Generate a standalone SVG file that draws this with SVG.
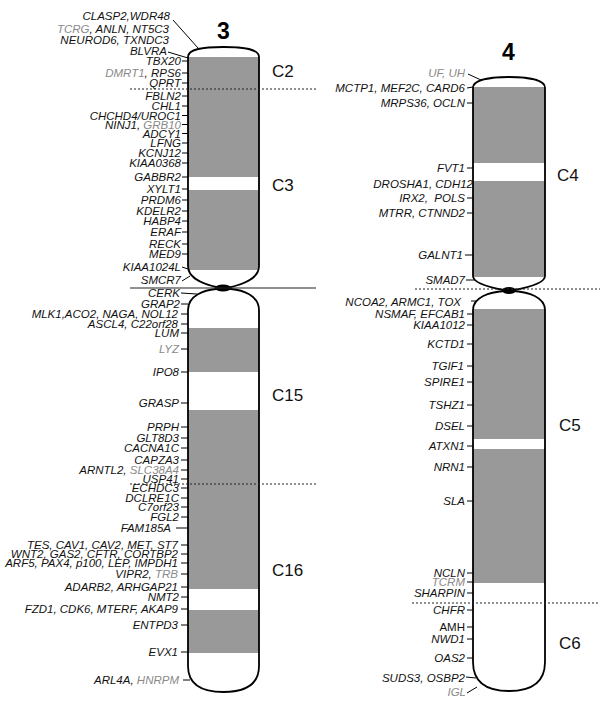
<svg xmlns="http://www.w3.org/2000/svg" width="600" height="706" viewBox="0 0 600 706">
<style>
.g{font-family:"Liberation Sans",Arial,sans-serif;font-style:italic;font-size:11.5px;text-anchor:end;fill:#111}
.gr{fill:#8a8a8a}
.up{font-style:normal}
.band{font-family:"Liberation Sans",Arial,sans-serif;font-size:17px;fill:#111}
.title{font-family:"Liberation Sans",Arial,sans-serif;font-size:23px;font-weight:bold;text-anchor:middle;fill:#000}
.outline{fill:none;stroke:#000;stroke-width:1.8}
.fillw{fill:#fff}
.grey{fill:#999}
.tick{stroke:#000;stroke-width:1;fill:none}
.dot{stroke:#222;stroke-width:1;stroke-dasharray:2,2;fill:none}
.solid{stroke:#222;stroke-width:1.2;fill:none}
</style>
<defs>
<path id="c3u" d="M188,57 C188,49 203,47 223.5,47 C244,47 259,49 259,57 L259,266 C259,280 240,285 229,287.5 L218,287.5 C207,285 188,280 188,266 Z"/>
<path id="c3l" d="M216,289 C205,290 188,295 188,310 L188,666 C188,687 205,692 223.5,692 C242,692 259,687 259,666 L259,310 C259,295 242,290 231,289 Z"/>
<path id="c4u" d="M473,88 C473,80 490,77 509,77 C528,77 545,80 545,88 L545,276 C545,284 525,288 514,290 L504,290 C493,288 473,284 473,276 Z"/>
<path id="c4l" d="M504,291 C490,292 473,297 473,310 L473,662 C473,685 490,691 509,691 C528,691 545,685 545,662 L545,310 C545,297 528,292 514,291 Z"/>
<clipPath id="k3u"><use href="#c3u"/></clipPath>
<clipPath id="k3l"><use href="#c3l"/></clipPath>
<clipPath id="k4u"><use href="#c4u"/></clipPath>
<clipPath id="k4l"><use href="#c4l"/></clipPath>
</defs>
<rect width="600" height="706" fill="#fff"/>

<g id="chr3">
<use href="#c3u" class="fillw"/>
<use href="#c3l" class="fillw"/>
<g clip-path="url(#k3u)" class="grey">
<rect x="180" y="57" width="90" height="120"/>
<rect x="180" y="190" width="90" height="80"/>
</g>
<g clip-path="url(#k3l)" class="grey">
<rect x="180" y="328" width="90" height="44"/>
<rect x="180" y="410" width="90" height="179"/>
<rect x="180" y="610" width="90" height="43"/>
</g>
<use href="#c3u" class="outline"/>
<use href="#c3l" class="outline"/>
<ellipse cx="223" cy="288" rx="8" ry="3.5" fill="#000"/>
<text class="title" x="223.5" y="39">3</text>
</g>

<g id="chr4">
<use href="#c4u" class="fillw"/>
<use href="#c4l" class="fillw"/>
<g clip-path="url(#k4u)" class="grey">
<rect x="465" y="87" width="90" height="76"/>
<rect x="465" y="181" width="90" height="96"/>
</g>
<g clip-path="url(#k4l)" class="grey">
<rect x="465" y="309" width="90" height="130"/>
<rect x="465" y="449" width="90" height="134"/>
</g>
<use href="#c4u" class="outline"/>
<use href="#c4l" class="outline"/>
<ellipse cx="509" cy="290.5" rx="7" ry="3.5" fill="#000"/>
<text class="title" x="508.5" y="60">4</text>
</g>

<g id="bands">
<text class="band" x="272" y="77">C2</text>
<text class="band" x="272" y="191">C3</text>
<text class="band" x="272" y="401">C15</text>
<text class="band" x="272" y="576">C16</text>
<text class="band" x="557" y="181">C4</text>
<text class="band" x="559" y="431">C5</text>
<text class="band" x="559" y="649">C6</text>
</g>

<g id="connectors">
<line class="solid" x1="130" y1="288" x2="316" y2="288"/>
<line class="dot" x1="130" y1="89" x2="316" y2="89"/>
<line class="dot" x1="130" y1="484" x2="316" y2="484"/>
<line class="dot" x1="415" y1="289" x2="600" y2="289"/>
<line class="dot" x1="412" y1="603" x2="600" y2="603"/>
<path class="tick" d="M173,20 L198,48 M168,52 L188,58
M182,61 H188 M182,73 H188 M182,83 H188 M182,96 H188 M182,106 H188 M182,115.5 H188 M182,124.5 H188 M182,133.5 H188 M182,143 H188 M182,153 H188 M182,163 H188 M182,177 H188 M182,189 H188 M182,200 H188 M182,211 H188 M182,221 H188 M182,232 H188 M182,244 H188 M182,254 H188 M182,267 L188,269
M182,281 L190,276 M181,293 L197,294
M181,304 H188 M181,314 H188 M181,324 H188 M181,333 H188 M181,349 H188 M181,372 H188 M181,403 H188 M181,427 H188 M181,438 H188 M181,448 H188 M181,460 H188 M181,470 H188 M181,479 H188 M181,488 H188 M181,498 H188 M181,507 H188 M181,517 H188 M176,528 H188 M181,545 H188 M181,554 H188 M181,563 H188 M181,574 H188 M181,587 H188 M181,597 H188 M181,609 H188 M181,625 H188 M181,652 H188 M183,680 H190"/>
<path class="tick" d="M468,74 L481,80 M467,88 L473,87 M467,103 H473 M467,168 H473 M467,198 H473 M467,213 H473 M465,255 H473 M466,280 H475
M471,301 H477 M467,314 H473 M467,325 H473 M467,344 H473 M467,366 H473 M467,382 H473 M467,405 H473 M467,426 H473 M467,446 H473 M467,467 H473 M467,501 H473 M467,573 H473 M467,582 H473 M467,593 H473 M467,610 H473 M467,627 H473 M467,639 H473 M467,658 H473 M466,677 L476,678 M467,693 L477,687"/>
</g>

<g id="labels3">
<text class="g" x="170" y="20">CLASP2,WDR48</text>
<text class="g" x="169" y="33"><tspan class="gr">TCRG</tspan>, ANLN, NT5C3</text>
<text class="g" x="169" y="44">NEUROD6, TXNDC3</text>
<text class="g" x="167" y="55">BLVRA</text>
<text class="g" x="181" y="65">TBX20</text>
<text class="g" x="181" y="77"><tspan class="gr">DMRT1</tspan>, RPS6</text>
<text class="g" x="181" y="87">QPRT</text>
<text class="g" x="181" y="100">FBLN2</text>
<text class="g" x="181" y="110">CHL1</text>
<text class="g" x="181" y="119.5">CHCHD4/UROC1</text>
<text class="g" x="181" y="128.5">NINJ1, <tspan class="gr">GRB10</tspan></text>
<text class="g" x="181" y="137.5">ADCY1</text>
<text class="g" x="181" y="147">LFNG</text>
<text class="g" x="181" y="157">KCNJ12</text>
<text class="g" x="181" y="167">KIAA0368</text>
<text class="g" x="181" y="181">GABBR2</text>
<text class="g" x="181" y="193">XYLT1</text>
<text class="g" x="181" y="204">PRDM6</text>
<text class="g" x="181" y="215">KDELR2</text>
<text class="g" x="181" y="225">HABP4</text>
<text class="g" x="181" y="236">ERAF</text>
<text class="g" x="181" y="248">RECK</text>
<text class="g" x="181" y="258">MED9</text>
<text class="g" x="181" y="271">KIAA1024L</text>
<text class="g" x="181" y="284">SMCR7</text>
<text class="g" x="180" y="297">CERK</text>
<text class="g" x="180" y="308">GRAP2</text>
<text class="g" x="178" y="318">MLK1,ACO2, NAGA, NOL12</text>
<text class="g" x="178" y="328">ASCL4, C22orf28</text>
<text class="g" x="179" y="337">LUM</text>
<text class="g" x="179" y="353"><tspan class="gr">LYZ</tspan></text>
<text class="g" x="179" y="376">IPO8</text>
<text class="g" x="179" y="407">GRASP</text>
<text class="g" x="179" y="431">PRPH</text>
<text class="g" x="179" y="442">GLT8D3</text>
<text class="g" x="179" y="452">CACNA1C</text>
<text class="g" x="179" y="464">CAPZA3</text>
<text class="g" x="179" y="474">ARNTL2, <tspan class="gr">SLC38A4</tspan></text>
<text class="g" x="179" y="483">USP41</text>
<text class="g" x="179" y="492">ECHDC3</text>
<text class="g" x="179" y="502">DCLRE1C</text>
<text class="g" x="179" y="511">C7orf23</text>
<text class="g" x="179" y="521">FGL2</text>
<text class="g" x="171" y="532">FAM185A</text>
<text class="g" x="178" y="549">TES, CAV1, CAV2, MET, ST7</text>
<text class="g" x="178" y="558">WNT2, GAS2, CFTR, CORTBP2</text>
<text class="g" x="178" y="567">ARF5, PAX4, p100, LEP, IMPDH1</text>
<text class="g" x="178" y="578">VIPR2, <tspan class="gr">TRB</tspan></text>
<text class="g" x="178" y="591">ADARB2, ARHGAP21</text>
<text class="g" x="179" y="601">NMT2</text>
<text class="g" x="178" y="613">FZD1, CDK6, MTERF, AKAP9</text>
<text class="g" x="178" y="629">ENTPD3</text>
<text class="g" x="178" y="656">EVX1</text>
<text class="g" x="179" y="684">ARL4A, <tspan class="gr">HNRPM</tspan></text>
</g>

<g id="labels4">
<text class="g" x="465" y="77"><tspan class="gr">UF, UH</tspan></text>
<text class="g" x="465" y="92">MCTP1, MEF2C, CARD6</text>
<text class="g" x="465" y="107">MRPS36, OCLN</text>
<text class="g" x="465" y="172">FVT1</text>
<text class="g" x="473" y="188">DROSHA1, CDH12</text>
<text class="g" x="465" y="202" xml:space="preserve">IRX2,  POLS</text>
<text class="g" x="465" y="217">MTRR, CTNND2</text>
<text class="g" x="463" y="259">GALNT1</text>
<text class="g" x="465" y="284">SMAD7</text>
<text class="g" x="461" y="306">NCOA2, ARMC1, TOX</text>
<text class="g" x="465" y="318">NSMAF, EFCAB1</text>
<text class="g" x="465" y="329">KIAA1012</text>
<text class="g" x="465" y="348">KCTD1</text>
<text class="g" x="464" y="370">TGIF1</text>
<text class="g" x="465" y="386">SPIRE1</text>
<text class="g" x="465" y="409">TSHZ1</text>
<text class="g" x="465" y="430">DSEL</text>
<text class="g" x="465" y="450">ATXN1</text>
<text class="g" x="465" y="471">NRN1</text>
<text class="g" x="465" y="505">SLA</text>
<text class="g" x="465" y="577">NCLN</text>
<text class="g" x="465" y="586"><tspan class="gr">TCRM</tspan></text>
<text class="g" x="465" y="597">SHARPIN</text>
<text class="g" x="465" y="614">CHFR</text>
<text class="g up" x="465" y="631">AMH</text>
<text class="g" x="465" y="643">NWD1</text>
<text class="g" x="465" y="662">OAS2</text>
<text class="g" x="465" y="682">SUDS3, OSBP2</text>
<text class="g" x="466" y="696"><tspan class="gr">IGL</tspan></text>
</g>
</svg>
